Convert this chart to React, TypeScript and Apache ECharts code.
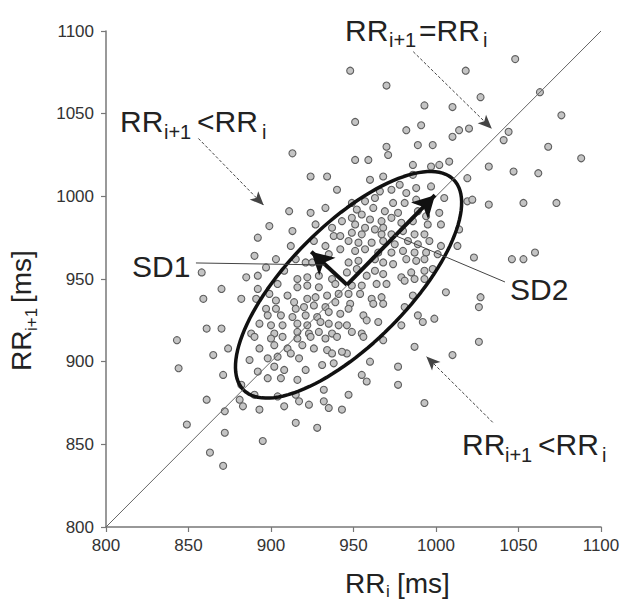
import React, { useEffect, useRef } from "react";
import * as echarts from "echarts";

// ---- data ----
const axisMin = 800;
const axisMax = 1100;
const axisStep = 50;

const rrI = [
  948, 951, 951, 913, 1048, 1018, 970, 1063, 1027, 993,
  1010, 1076, 982, 991, 1010, 1014, 1020, 1041, 1044, 970,
  971, 989, 998, 1068, 959, 986, 997, 1002, 1008, 1032,
  1047, 1062, 1088, 960, 968, 986, 1019, 1019, 1022, 1032,
  1053, 1073, 1014, 1013, 1023, 1046, 1053, 1060, 924, 934,
  940, 911, 924, 933, 899, 913, 892, 890, 885, 858,
  903, 897, 912, 927, 937, 938, 943, 926, 933, 942,
  942, 935, 978, 988, 997, 966, 973, 982, 963, 988,
  949, 957, 974, 981, 989, 1005, 952, 962, 969, 977,
  949, 955, 960, 967, 973, 994, 1002, 986, 995, 951,
  957, 963, 968, 979, 949, 955, 967, 973, 980, 987,
  993, 1003, 947, 953, 961, 968, 975, 983, 989, 996,
  1003, 951, 957, 965, 973, 980, 987, 994, 1001, 915,
  908, 921, 925, 892, 904, 916, 922, 929, 937, 892,
  899, 910, 916, 922, 929, 939, 882, 891, 903, 914,
  922, 927, 934, 941, 897, 903, 915, 920, 926, 933,
  939, 898, 906, 913, 921, 928, 935, 942, 893, 900,
  907, 916, 922, 930, 935, 941, 888, 902, 916, 923,
  929, 937, 947, 953, 963, 968, 974, 982, 988, 993,
  946, 952, 958, 963, 968, 979, 985, 993, 998, 949,
  955, 964, 970, 981, 987, 993, 947, 954, 961, 967,
  986, 1006, 948, 947, 962, 968, 981, 956, 958, 965,
  989, 992, 999, 946, 949, 955, 979, 1027, 1026, 1026,
  987, 1010, 977, 960, 955, 958, 977, 947, 993, 943,
  968, 956, 946, 890, 900, 907, 916, 924, 933, 940,
  893, 902, 910, 919, 926, 934, 937, 943, 887, 898,
  904, 912, 917, 931, 938, 892, 902, 908, 921, 898,
  906, 916, 882, 890, 904, 915, 932, 881, 883, 893,
  908, 917, 923, 932, 935, 870, 859, 861, 870, 843,
  874, 865, 844, 871, 861, 872, 849, 872, 895, 863,
  871, 915, 928,
];

const rrNext = [
  1076, 1045, 1022, 1026, 1083, 1076, 1067, 1063, 1060, 1055,
  1054, 1049, 1040, 1043, 1036, 1040, 1041, 1034, 1039, 1030,
  1025, 1031, 1031, 1030, 1022, 1019, 1018, 1019, 1021, 1018,
  1015, 1014, 1023, 1010, 1012, 1013, 1011, 997, 998, 995,
  996, 996, 980, 970, 963, 962, 962, 966, 1012, 1012,
  1004, 991, 990, 993, 982, 979, 975, 964, 951, 954,
  962, 957, 970, 983, 981, 976, 985, 973, 970, 976,
  968, 965, 1007, 1005, 1006, 1003, 1004, 1002, 999, 998,
  996, 997, 996, 996, 991, 999, 992, 993, 991, 990,
  987, 989, 986, 985, 987, 988, 990, 985, 983, 983,
  981, 980, 981, 984, 978, 977, 977, 977, 979, 977,
  977, 983, 973, 972, 972, 973, 971, 973, 971, 973,
  970, 967, 968, 966, 966, 967, 966, 966, 965, 962,
  955, 960, 960, 952, 947, 950, 951, 952, 950, 944,
  941, 940, 945, 946, 945, 947, 938, 938, 937, 936,
  938, 939, 940, 941, 932, 932, 932, 933, 934, 933,
  936, 928, 928, 927, 928, 927, 930, 929, 923, 922,
  922, 923, 922, 924, 923, 922, 917, 917, 918, 917,
  918, 917, 960, 961, 962, 960, 959, 962, 961, 962,
  954, 956, 952, 955, 953, 951, 954, 955, 956, 946,
  946, 947, 947, 949, 950, 950, 941, 941, 938, 939,
  940, 942, 935, 932, 935, 935, 933, 928, 925, 924,
  928, 924, 926, 922, 918, 917, 922, 939, 933, 912,
  909, 904, 897, 900, 892, 888, 886, 880, 875, 871,
  913, 915, 905, 915, 914, 915, 914, 915, 914, 915,
  908, 910, 908, 910, 908, 907, 905, 906, 901, 902,
  903, 905, 902, 898, 899, 894, 897, 895, 895, 890,
  890, 889, 886, 880, 879, 880, 883, 877, 873, 871,
  873, 876, 874, 876, 872, 944, 938, 920, 920, 913,
  908, 904, 896, 892, 877, 870, 862, 857, 852, 845,
  837, 863, 860,
];

// Poincaré descriptors (ellipse centre and half-axes, ms)
const ellipseCenter = [947, 946.5];
const sd2HalfAxis = 90;
const sd1HalfAxis = 36;
const arrowOrigin = [946, 946.5];
const sd1Tip = [920, 970.6];
const sd2Tip = [1003.6, 1005];
const sd1Leader = [[854.5, 959.7], [932.7, 958.5]];
const sd2Leader = [[1041.8, 948.2], [974.5, 976.6]];
const annotationArrows = [
  [[986.2, 1087.5], [1036.7, 1038.1]],
  [[856, 1035], [898.4, 991.7]],
  [[1034.4, 863.3], [991.3, 906]],
];

const FONT = '"Liberation Sans", Arial, Helvetica, sans-serif';

function ellipsePoints(): number[][] {
  const pts: number[][] = [];
  const c = Math.SQRT1_2;
  for (let k = 0; k <= 120; k++) {
    const t = (k / 120) * Math.PI * 2;
    const u = sd2HalfAxis * Math.cos(t);
    const v = sd1HalfAxis * Math.sin(t);
    pts.push([ellipseCenter[0] + u * c - v * c, ellipseCenter[1] + u * c + v * c]);
  }
  return pts;
}

function pullBack(a: number[], b: number[], d: number): number[] {
  const dx = b[0] - a[0];
  const dy = b[1] - a[1];
  const len = Math.hypot(dx, dy);
  return [b[0] - (dx / len) * d, b[1] - (dy / len) * d];
}

function txt(x: number, baseline: number, text: string, size: number) {
  return {
    type: "text",
    x,
    y: baseline - 0.35 * size,
    silent: true,
    style: {
      text,
      fill: "#222",
      font: `${size}px ${FONT}`,
      textAlign: "left",
      verticalAlign: "middle",
    },
  };
}

export default function App() {
  const ref = useRef<HTMLDivElement>(null);

  useEffect(() => {
    document.body.style.margin = "0";
    if (!ref.current) return;
    const chart = echarts.init(ref.current, undefined, { renderer: "svg" });

    const axisCommon = {
      type: "value",
      min: axisMin,
      max: axisMax,
      interval: axisStep,
      splitLine: { show: false },
      axisLine: { show: true, lineStyle: { color: "#777", width: 1.5 } },
      axisTick: { show: true, inside: false, length: 5, lineStyle: { color: "#777", width: 1.2 } },
      axisLabel: {
        color: "#333",
        fontSize: 17,
        fontFamily: FONT,
        showMinLabel: true,
        showMaxLabel: true,
        formatter: (v: number) => String(v),
      },
    };

    const L = 30;
    const S = 20;

    const option: any = {
      animation: false,
      backgroundColor: "#fff",
      grid: { left: 106, right: 23, top: 31, bottom: 74, containLabel: false },
      xAxis: { ...axisCommon, axisLabel: { ...axisCommon.axisLabel, margin: 10 } },
      yAxis: { ...axisCommon, axisLabel: { ...axisCommon.axisLabel, margin: 12 } },
      series: [
        {
          type: "line",
          data: [],
          z: 1,
          markLine: {
            silent: true,
            animation: false,
            symbol: ["none", "none"],
            label: { show: false },
            lineStyle: { color: "#666", width: 1, type: "solid" },
            data: [[{ coord: [axisMin, axisMin] }, { coord: [axisMax, axisMax] }]],
          },
        },
        {
          type: "scatter",
          z: 2,
          symbol: "circle",
          symbolSize: 7,
          itemStyle: { color: "#c4c4c4", borderColor: "#5e5e5e", borderWidth: 1.1, opacity: 1 },
          data: rrI.map((x, i) => [x, rrNext[i]]),
        },
        {
          type: "line",
          z: 3,
          data: ellipsePoints(),
          showSymbol: false,
          smooth: false,
          lineStyle: { color: "#111", width: 3.5 },
          silent: true,
        },
        {
          type: "line",
          data: [],
          z: 4,
          markLine: {
            silent: true,
            animation: false,
            label: { show: false },
            symbol: ["none", "arrow"],
            symbolSize: [18, 22],
            lineStyle: { color: "#111", width: 4, type: "solid" },
            data: [
              [{ coord: arrowOrigin }, { coord: pullBack(arrowOrigin, sd1Tip, 6) }],
              [{ coord: arrowOrigin }, { coord: pullBack(arrowOrigin, sd2Tip, 6) }],
            ],
          },
        },
        {
          type: "line",
          data: [],
          z: 4,
          markLine: {
            silent: true,
            animation: false,
            label: { show: false },
            symbol: ["none", "none"],
            lineStyle: { color: "#444", width: 1, type: "solid" },
            data: [
              [{ coord: sd1Leader[0] }, { coord: sd1Leader[1] }],
              [{ coord: sd2Leader[0] }, { coord: sd2Leader[1] }],
            ],
          },
        },
        {
          type: "line",
          data: [],
          z: 4,
          markLine: {
            silent: true,
            animation: false,
            label: { show: false },
            symbol: ["none", "arrow"],
            symbolSize: [9, 14],
            lineStyle: { color: "#444", width: 1, type: [3, 2] },
            data: annotationArrows.map(([a, b]) => [{ coord: a }, { coord: pullBack(a, b, 4) }]),
          },
        },
      ],
      graphic: [
        // RR_{i+1}=RR_i (top)
        txt(345, 40.7, "RR", L),
        txt(389, 47, "i+1", S),
        txt(419, 40.7, "=RR", L),
        txt(483, 47, "i", S),
        // RR_{i+1}<RR_i (upper left)
        txt(120, 131.7, "RR", L),
        txt(164, 138.5, "i+1", S),
        txt(197, 131.7, "<RR", L),
        txt(262, 138.5, "i", S),
        // RR_{i+1}<RR_i (lower right)
        txt(462, 455, "RR", L),
        txt(505, 462, "i+1", S),
        txt(538, 455, "<RR", L),
        txt(602, 462, "i", S),
        // SD labels
        txt(132, 277, "SD1", L),
        txt(510, 300, "SD2", L),
        // x axis title
        txt(345, 593, "RR", 28),
        txt(386, 597, "i", 17),
        txt(397, 593, "[ms]", 28),
        // y axis title (rotated)
        {
          type: "group",
          x: 31,
          y: 371,
          rotation: Math.PI / 2,
          children: [txt(0, 0, "RR", 28), txt(40, 6, "i+1", 17), txt(68, 0, "[ms]", 28)],
        },
      ],
    };

    chart.setOption(option);
    return () => chart.dispose();
  }, []);

  return <div ref={ref} style={{ width: 624, height: 601 }} />;
}
